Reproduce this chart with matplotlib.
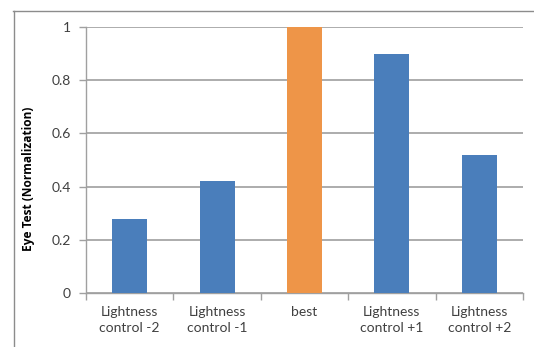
import matplotlib
matplotlib.use("Agg")
import matplotlib.pyplot as plt
from matplotlib.lines import Line2D

categories = ["Lightness\ncontrol -2", "Lightness\ncontrol -1", "best",
              "Lightness\ncontrol +1", "Lightness\ncontrol +2"]
values = [0.278, 0.42, 1.0, 0.90, 0.52]
colors = ["#4A7EBB", "#4A7EBB", "#EE9548", "#4A7EBB", "#4A7EBB"]
yticks = [0, 0.2, 0.4, 0.6, 0.8, 1]
ytick_labels = ["0", "0.2", "0.4", "0.6", "0.8", "1"]

plt.rcParams["font.family"] = ["Lato", "DejaVu Sans"]

W, H = 534, 347
fig = plt.figure(figsize=(W / 100, H / 100), dpi=100)
ax = fig.add_axes([86 / W, 54 / H, (523 - 86) / W, (293 - 27) / H])

x = list(range(len(categories)))
ax.bar(x, values, width=0.4, color=colors, zorder=3)

ax.set_xlim(-0.5, len(categories) - 0.5)
ax.set_ylim(0, 1)
ax.set_yticks(yticks)
ax.set_yticklabels(ytick_labels)
ax.yaxis.grid(True, color="#A6A6A6", linewidth=1.3, zorder=0)

# category labels sit between boundary ticks
ax.set_xticks(x)
ax.set_xticklabels(categories, fontsize=10, color="#404040", linespacing=1.45)
ax.tick_params(axis="x", length=0, pad=9)
ax.set_xticks([i - 0.5 for i in range(len(categories) + 1)], minor=True)
ax.tick_params(axis="x", which="minor", length=5, color="#A0A0A0", width=1)
ax.tick_params(axis="y", length=5, color="#A0A0A0", width=1, labelsize=10,
               labelcolor="#404040", pad=6)

for side in ["top", "right"]:
    ax.spines[side].set_visible(False)
for side in ["left", "bottom"]:
    ax.spines[side].set_color("#A0A0A0")
    ax.spines[side].set_linewidth(1)

ax.set_ylabel("Eye Test (Normalization)", fontsize=8.6, fontweight="bold",
              family=["Open Sans", "DejaVu Sans"], color="black")
ax.yaxis.set_label_coords(-51 / (523 - 86), 0.43)

# outer chart frame
fig.add_artist(Line2D([13 / W, 1], [1 - 10.5 / H, 1 - 10.5 / H],
                      color="#8C8C8C", linewidth=1, transform=fig.transFigure))
fig.add_artist(Line2D([13.5 / W, 13.5 / W], [0, 1 - 10.5 / H],
                      color="#8C8C8C", linewidth=1, transform=fig.transFigure))

fig.savefig("out.png", dpi=100, facecolor="white")
